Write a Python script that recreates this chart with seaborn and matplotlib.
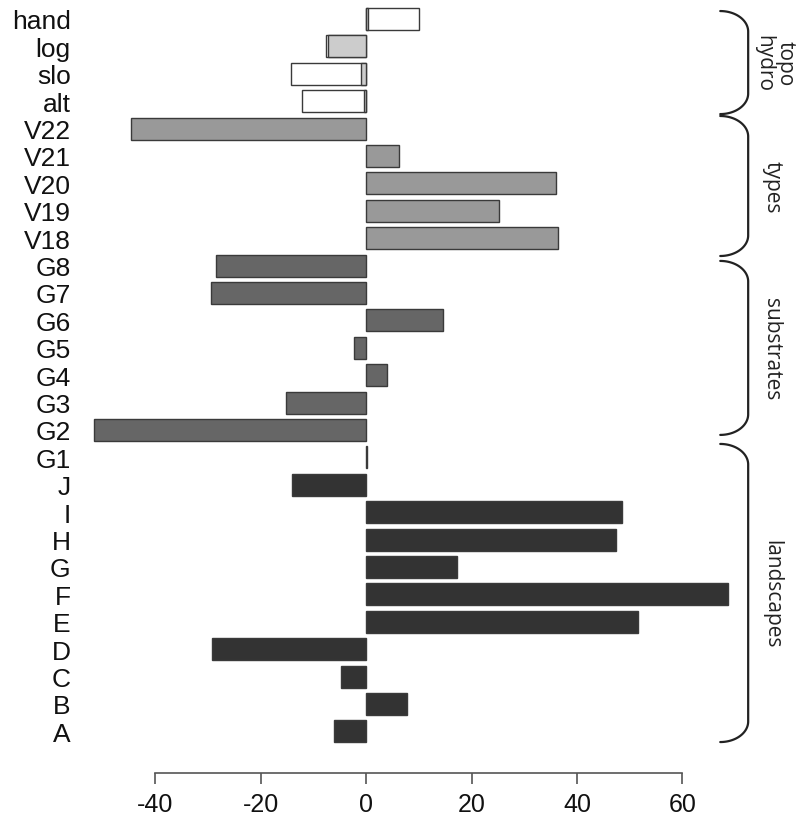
import numpy as np
import pandas as pd
import matplotlib
matplotlib.use("Agg")
import matplotlib.pyplot as plt
import seaborn as sns

# Bar labels, top to bottom
labels = ["hand", "log", "slo", "alt",
          "V22", "V21", "V20", "V19", "V18",
          "G8", "G7", "G6", "G5", "G4", "G3", "G2", "G1",
          "J", "I", "H", "G", "F", "E", "D", "C", "B", "A"]
values = [10.0, -7.65, -14.2, -12.1,
          -44.6, 6.3, 36.1, 25.2, 36.5,
          -28.5, -29.4, 14.5, -2.3, 4.0, -15.2, -51.6, 0.1,
          -14.1, 48.6, 47.4, 17.3, 68.7, 51.6, -29.2, -4.8, 7.8, -6.1]
groups = ["topo", "topo", "topo", "topo",
          "types", "types", "types", "types", "types",
          "substrates", "substrates", "substrates", "substrates",
          "substrates", "substrates", "substrates", "substrates",
          "landscapes", "landscapes", "landscapes", "landscapes", "landscapes",
          "landscapes", "landscapes", "landscapes", "landscapes", "landscapes"]

# second (hydro) series drawn over the topo bars
hydro_labels = ["hand", "log", "slo", "alt"]
hydro_values = [0.45, -7.15, -0.9, -0.45]

x_ticks = [-40, -20, 0, 20, 40, 60]

# right-hand brackets: label and span in row units
brace_labels = ["topo\nhydro", "types", "substrates", "landscapes"]
brace_spans = [(-0.29, 3.47), (3.54, 8.65), (8.83, 15.18), (15.51, 26.39)]

palette = {"topo": "#ffffff", "types": "#999999",
           "substrates": "#666666", "landscapes": "#333333"}

sns.set_style("white")
plt.rcParams["font.family"] = ["Liberation Sans", "DejaVu Sans"]

df = pd.DataFrame({"label": labels, "value": values, "group": groups})
df_hydro = pd.DataFrame({"label": hydro_labels, "value": hydro_values})

W, H = 804, 820
fig = plt.figure(figsize=(W / 100, H / 100), dpi=100)
ax_top, ax_bot = 3.56, 748.8
ax = fig.add_axes([90 / W, 1 - ax_bot / H, 645 / W, (ax_bot - ax_top) / H])

sns.barplot(data=df, x="value", y="label", hue="group", palette=palette,
            order=labels, dodge=False, width=0.8, saturation=1,
            edgecolor="#3a3a3a", linewidth=1.0, errorbar=None,
            legend=False, orient="h", ax=ax)
sns.barplot(data=df_hydro, x="value", y="label", order=labels,
            color="#cccccc", width=0.8, saturation=1,
            edgecolor="#3a3a3a", linewidth=1.0, errorbar=None,
            orient="h", ax=ax)

ax.set_xlim(-52.4, 70.0)
ax.set_ylim(26.6, -0.6)
ax.set_xticks(x_ticks)
ax.set_xticklabels([str(t) for t in x_ticks])
ax.set_xlabel("")
ax.set_ylabel("")

for s in ["top", "right", "left"]:
    ax.spines[s].set_visible(False)
ax.spines["bottom"].set_bounds(-40, 60)
ax.spines["bottom"].set_position(("outward", 18))
ax.spines["bottom"].set_color("#555555")
ax.spines["bottom"].set_linewidth(1.2)

ax.tick_params(axis="x", length=8, width=1.2, color="#555555",
               labelsize=18, pad=6, labelcolor="#111111", bottom=True)
ax.tick_params(axis="y", length=0, pad=14, labelsize=19, labelcolor="#111111")


def draw_brace(ax, y_top, y_bot, x_tip=67.2, x_line=72.5, r=0.75):
    t = np.linspace(0, np.pi / 2, 40)
    top_x = x_tip + (x_line - x_tip) * np.sin(t)
    top_y = y_top + r * (1 - np.cos(t))
    bot_x = top_x[::-1]
    bot_y = y_bot - (top_y[::-1] - y_top)
    xs = np.concatenate([top_x, bot_x])
    ys = np.concatenate([top_y, bot_y])
    ax.plot(xs, ys, color="#222222", lw=1.6, clip_on=False,
            solid_capstyle="round")


for lab, (y0, y1) in zip(brace_labels, brace_spans):
    draw_brace(ax, y0, y1)
    x_txt = 77.5 if "\n" in lab else 77.0
    ax.text(x_txt, (y0 + y1) / 2, lab, rotation=270, ha="center", va="center",
            fontsize=15, family=["Open Sans", "DejaVu Sans"], color="#222222",
            linespacing=1.0, multialignment="center", clip_on=False)

fig.savefig("out.png", dpi=100)
plt.close(fig)
